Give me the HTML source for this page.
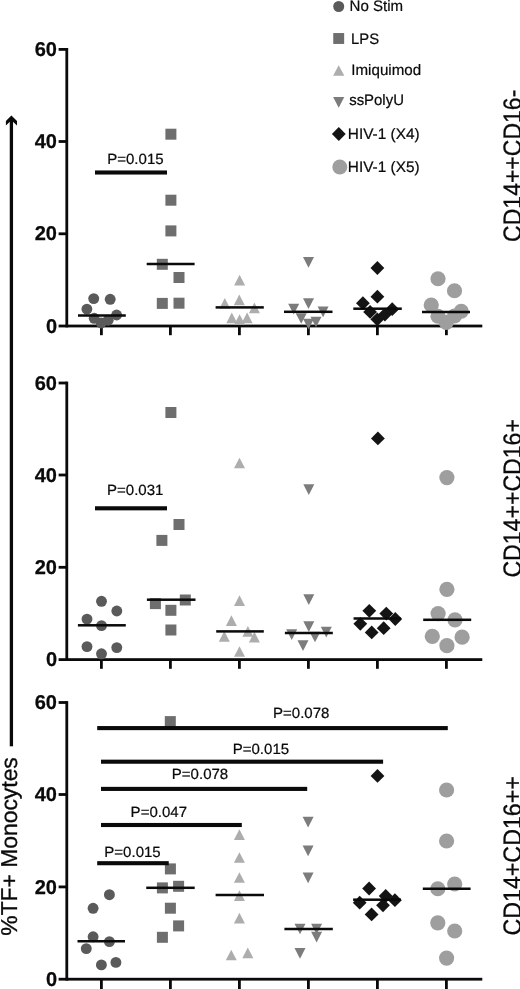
<!DOCTYPE html>
<html><head><meta charset="utf-8"><title>Figure</title>
<style>html,body{margin:0;padding:0;background:#fff}svg{display:block}</style>
</head><body>
<svg width="520" height="989" viewBox="0 0 520 989" font-family='"Liberation Sans", Arial, Helvetica, sans-serif' fill="#0a0a0a" text-rendering="geometricPrecision">
<rect width="520" height="989" fill="#ffffff"/>
<defs><filter id="soft" x="0" y="0" width="100%" height="100%" filterUnits="userSpaceOnUse" color-interpolation-filters="sRGB"><feGaussianBlur stdDeviation="0.45"/></filter></defs>
<g filter="url(#soft)">
<rect x="65.40" y="48.00" width="2.8" height="279.40" fill="#0a0a0a"/>
<rect x="58.60" y="324.60" width="423.70" height="2.8" fill="#0a0a0a"/>
<rect x="58.60" y="48.00" width="8.20" height="2.8" fill="#0a0a0a"/>
<text transform="translate(57.0,56.0) scale(1.0,1)" font-size="20" font-weight="bold" text-anchor="end" stroke="#0a0a0a" stroke-width="0.25">60</text>
<rect x="58.60" y="140.10" width="8.20" height="2.8" fill="#0a0a0a"/>
<text transform="translate(57.0,148.1) scale(1.0,1)" font-size="20" font-weight="bold" text-anchor="end" stroke="#0a0a0a" stroke-width="0.25">40</text>
<rect x="58.60" y="232.40" width="8.20" height="2.8" fill="#0a0a0a"/>
<text transform="translate(57.0,240.4) scale(1.0,1)" font-size="20" font-weight="bold" text-anchor="end" stroke="#0a0a0a" stroke-width="0.25">20</text>
<text transform="translate(57.0,332.6) scale(1.0,1)" font-size="20" font-weight="bold" text-anchor="end" stroke="#0a0a0a" stroke-width="0.25">0</text>
<rect x="100.00" y="326.00" width="2.8" height="9.20" fill="#0a0a0a"/>
<rect x="169.00" y="326.00" width="2.8" height="9.20" fill="#0a0a0a"/>
<rect x="238.00" y="326.00" width="2.8" height="9.20" fill="#0a0a0a"/>
<rect x="307.00" y="326.00" width="2.8" height="9.20" fill="#0a0a0a"/>
<rect x="376.00" y="326.00" width="2.8" height="9.20" fill="#0a0a0a"/>
<rect x="445.00" y="326.00" width="2.8" height="9.20" fill="#0a0a0a"/>
<circle cx="93.7" cy="298.6" r="5.45" fill="#5a5a5a"/>
<circle cx="110.2" cy="299.3" r="5.45" fill="#5a5a5a"/>
<circle cx="86.9" cy="309.1" r="5.45" fill="#5a5a5a"/>
<circle cx="116.6" cy="315.0" r="5.45" fill="#5a5a5a"/>
<circle cx="94.2" cy="318.3" r="5.45" fill="#5a5a5a"/>
<circle cx="101.2" cy="323.0" r="5.45" fill="#5a5a5a"/>
<circle cx="108.2" cy="320.2" r="5.45" fill="#5a5a5a"/>
<rect x="165.40" y="128.70" width="11" height="11" fill="#6e6e6e"/>
<rect x="165.40" y="194.70" width="11" height="11" fill="#6e6e6e"/>
<rect x="165.40" y="225.40" width="11" height="11" fill="#6e6e6e"/>
<rect x="156.80" y="258.80" width="11" height="11" fill="#6e6e6e"/>
<rect x="173.50" y="272.00" width="11" height="11" fill="#6e6e6e"/>
<rect x="156.80" y="297.90" width="11" height="11" fill="#6e6e6e"/>
<rect x="173.50" y="297.70" width="11" height="11" fill="#6e6e6e"/>
<polygon points="234.10,285.55 245.10,285.55 239.60,274.85" fill="#adadad"/>
<polygon points="233.80,305.15 244.80,305.15 239.30,294.45" fill="#adadad"/>
<polygon points="219.30,308.65 230.30,308.65 224.80,297.95" fill="#adadad"/>
<polygon points="248.90,313.25 259.90,313.25 254.40,302.55" fill="#adadad"/>
<polygon points="226.30,323.25 237.30,323.25 231.80,312.55" fill="#adadad"/>
<polygon points="234.10,324.85 245.10,324.85 239.60,314.15" fill="#adadad"/>
<polygon points="241.60,323.25 252.60,323.25 247.10,312.55" fill="#adadad"/>
<polygon points="303.00,256.95 314.00,256.95 308.50,267.65" fill="#7c7c7c"/>
<polygon points="303.00,298.35 314.00,298.35 308.50,309.05" fill="#7c7c7c"/>
<polygon points="288.20,303.85 299.20,303.85 293.70,314.55" fill="#7c7c7c"/>
<polygon points="317.60,306.55 328.60,306.55 323.10,317.25" fill="#7c7c7c"/>
<polygon points="295.70,313.15 306.70,313.15 301.20,323.85" fill="#7c7c7c"/>
<polygon points="310.50,316.65 321.50,316.65 316.00,327.35" fill="#7c7c7c"/>
<polygon points="303.00,318.65 314.00,318.65 308.50,329.35" fill="#7c7c7c"/>
<polygon points="370.50,268.00 377.40,261.10 384.30,268.00 377.40,274.90" fill="#141414"/>
<polygon points="370.50,296.70 377.40,289.80 384.30,296.70 377.40,303.60" fill="#141414"/>
<polygon points="356.00,303.20 362.90,296.30 369.80,303.20 362.90,310.10" fill="#141414"/>
<polygon points="385.30,309.20 392.20,302.30 399.10,309.20 392.20,316.10" fill="#141414"/>
<polygon points="363.20,311.90 370.10,305.00 377.00,311.90 370.10,318.80" fill="#141414"/>
<polygon points="378.00,314.60 384.90,307.70 391.80,314.60 384.90,321.50" fill="#141414"/>
<polygon points="370.40,319.30 377.30,312.40 384.20,319.30 377.30,326.20" fill="#141414"/>
<circle cx="438" cy="278.75" r="7.6" fill="#9e9e9e"/>
<circle cx="454.5" cy="290.75" r="7.6" fill="#9e9e9e"/>
<circle cx="431.25" cy="305" r="7.6" fill="#9e9e9e"/>
<circle cx="461.25" cy="311.25" r="7.6" fill="#9e9e9e"/>
<circle cx="438" cy="316.25" r="7.6" fill="#9e9e9e"/>
<circle cx="454.5" cy="316" r="7.6" fill="#9e9e9e"/>
<circle cx="446.3" cy="322.3" r="7.6" fill="#9e9e9e"/>
<rect x="78.00" y="314.25" width="47.80" height="2.5" fill="#0a0a0a"/>
<rect x="146.70" y="262.75" width="47.90" height="2.5" fill="#0a0a0a"/>
<rect x="215.60" y="306.15" width="48.20" height="2.5" fill="#0a0a0a"/>
<rect x="284.00" y="310.55" width="48.50" height="2.5" fill="#0a0a0a"/>
<rect x="353.30" y="307.45" width="48.50" height="2.5" fill="#0a0a0a"/>
<rect x="422.00" y="310.75" width="48.00" height="2.5" fill="#0a0a0a"/>
<rect x="95.00" y="170.45" width="72.00" height="4.1" fill="#0a0a0a"/>
<text transform="translate(135.4,163.6) scale(1.015,1)" font-size="14.8" font-weight="normal" text-anchor="middle" stroke="#0a0a0a" stroke-width="0.22">P=0.015</text>
<rect x="65.40" y="381.60" width="2.8" height="279.40" fill="#0a0a0a"/>
<rect x="58.60" y="658.20" width="423.70" height="2.8" fill="#0a0a0a"/>
<rect x="58.60" y="381.60" width="8.20" height="2.8" fill="#0a0a0a"/>
<text transform="translate(57.0,389.6) scale(1.0,1)" font-size="20" font-weight="bold" text-anchor="end" stroke="#0a0a0a" stroke-width="0.25">60</text>
<rect x="58.60" y="473.60" width="8.20" height="2.8" fill="#0a0a0a"/>
<text transform="translate(57.0,481.6) scale(1.0,1)" font-size="20" font-weight="bold" text-anchor="end" stroke="#0a0a0a" stroke-width="0.25">40</text>
<rect x="58.60" y="565.90" width="8.20" height="2.8" fill="#0a0a0a"/>
<text transform="translate(57.0,573.9) scale(1.0,1)" font-size="20" font-weight="bold" text-anchor="end" stroke="#0a0a0a" stroke-width="0.25">20</text>
<text transform="translate(57.0,666.2) scale(1.0,1)" font-size="20" font-weight="bold" text-anchor="end" stroke="#0a0a0a" stroke-width="0.25">0</text>
<rect x="100.00" y="659.60" width="2.8" height="9.20" fill="#0a0a0a"/>
<rect x="169.00" y="659.60" width="2.8" height="9.20" fill="#0a0a0a"/>
<rect x="238.00" y="659.60" width="2.8" height="9.20" fill="#0a0a0a"/>
<rect x="307.00" y="659.60" width="2.8" height="9.20" fill="#0a0a0a"/>
<rect x="376.00" y="659.60" width="2.8" height="9.20" fill="#0a0a0a"/>
<rect x="445.00" y="659.60" width="2.8" height="9.20" fill="#0a0a0a"/>
<circle cx="101.5" cy="601.3" r="5.45" fill="#5a5a5a"/>
<circle cx="116.8" cy="611" r="5.45" fill="#5a5a5a"/>
<circle cx="87" cy="619.1" r="5.45" fill="#5a5a5a"/>
<circle cx="101.5" cy="625.6" r="5.45" fill="#5a5a5a"/>
<circle cx="87" cy="646.6" r="5.45" fill="#5a5a5a"/>
<circle cx="116.8" cy="647.6" r="5.45" fill="#5a5a5a"/>
<circle cx="101.5" cy="653.8" r="5.45" fill="#5a5a5a"/>
<rect x="165.40" y="407.00" width="11" height="11" fill="#6e6e6e"/>
<rect x="173.50" y="519.00" width="11" height="11" fill="#6e6e6e"/>
<rect x="156.40" y="534.90" width="11" height="11" fill="#6e6e6e"/>
<rect x="149.90" y="598.10" width="11" height="11" fill="#6e6e6e"/>
<rect x="179.80" y="594.50" width="11" height="11" fill="#6e6e6e"/>
<rect x="165.40" y="604.80" width="11" height="11" fill="#6e6e6e"/>
<rect x="165.40" y="624.50" width="11" height="11" fill="#6e6e6e"/>
<polygon points="234.00,468.35 245.00,468.35 239.50,457.65" fill="#adadad"/>
<polygon points="234.00,605.95 245.00,605.95 239.50,595.25" fill="#adadad"/>
<polygon points="225.90,626.05 236.90,626.05 231.40,615.35" fill="#adadad"/>
<polygon points="242.40,636.75 253.40,636.75 247.90,626.05" fill="#adadad"/>
<polygon points="218.80,641.65 229.80,641.65 224.30,630.95" fill="#adadad"/>
<polygon points="248.90,642.55 259.90,642.55 254.40,631.85" fill="#adadad"/>
<polygon points="234.00,656.85 245.00,656.85 239.50,646.15" fill="#adadad"/>
<polygon points="303.30,484.25 314.30,484.25 308.80,494.95" fill="#7c7c7c"/>
<polygon points="303.30,594.35 314.30,594.35 308.80,605.05" fill="#7c7c7c"/>
<polygon points="303.30,621.25 314.30,621.25 308.80,631.95" fill="#7c7c7c"/>
<polygon points="286.20,629.35 297.20,629.35 291.70,640.05" fill="#7c7c7c"/>
<polygon points="320.80,626.75 331.80,626.75 326.30,637.45" fill="#7c7c7c"/>
<polygon points="309.50,631.65 320.50,631.65 315.00,642.35" fill="#7c7c7c"/>
<polygon points="297.50,640.35 308.50,640.35 303.00,651.05" fill="#7c7c7c"/>
<polygon points="371.00,438.40 377.90,431.50 384.80,438.40 377.90,445.30" fill="#141414"/>
<polygon points="362.40,610.80 369.30,603.90 376.20,610.80 369.30,617.70" fill="#141414"/>
<polygon points="379.40,613.60 386.30,606.70 393.20,613.60 386.30,620.50" fill="#141414"/>
<polygon points="388.40,619.00 395.30,612.10 402.20,619.00 395.30,625.90" fill="#141414"/>
<polygon points="353.40,623.80 360.30,616.90 367.20,623.80 360.30,630.70" fill="#141414"/>
<polygon points="376.80,628.20 383.70,621.30 390.60,628.20 383.70,635.10" fill="#141414"/>
<polygon points="364.80,632.40 371.70,625.50 378.60,632.40 371.70,639.30" fill="#141414"/>
<circle cx="446.9" cy="477.6" r="7.6" fill="#9e9e9e"/>
<circle cx="446.9" cy="589.3" r="7.6" fill="#9e9e9e"/>
<circle cx="438.1" cy="613.6" r="7.6" fill="#9e9e9e"/>
<circle cx="455" cy="619.8" r="7.6" fill="#9e9e9e"/>
<circle cx="432.3" cy="636.3" r="7.6" fill="#9e9e9e"/>
<circle cx="462.1" cy="637.2" r="7.6" fill="#9e9e9e"/>
<circle cx="446.9" cy="645.7" r="7.6" fill="#9e9e9e"/>
<rect x="77.90" y="624.05" width="47.90" height="2.5" fill="#0a0a0a"/>
<rect x="146.90" y="598.45" width="48.60" height="2.5" fill="#0a0a0a"/>
<rect x="216.20" y="630.15" width="47.60" height="2.5" fill="#0a0a0a"/>
<rect x="284.90" y="631.75" width="47.90" height="2.5" fill="#0a0a0a"/>
<rect x="353.60" y="617.25" width="47.30" height="2.5" fill="#0a0a0a"/>
<rect x="423.20" y="618.55" width="48.00" height="2.5" fill="#0a0a0a"/>
<rect x="95.00" y="506.25" width="72.00" height="4.1" fill="#0a0a0a"/>
<text transform="translate(135.2,495) scale(1.015,1)" font-size="14.8" font-weight="normal" text-anchor="middle" stroke="#0a0a0a" stroke-width="0.22">P=0.031</text>
<rect x="65.40" y="701.10" width="2.8" height="279.50" fill="#0a0a0a"/>
<rect x="58.60" y="977.80" width="423.70" height="2.8" fill="#0a0a0a"/>
<rect x="58.60" y="701.10" width="8.20" height="2.8" fill="#0a0a0a"/>
<text transform="translate(57.0,709.1) scale(1.0,1)" font-size="20" font-weight="bold" text-anchor="end" stroke="#0a0a0a" stroke-width="0.25">60</text>
<rect x="58.60" y="793.10" width="8.20" height="2.8" fill="#0a0a0a"/>
<text transform="translate(57.0,801.1) scale(1.0,1)" font-size="20" font-weight="bold" text-anchor="end" stroke="#0a0a0a" stroke-width="0.25">40</text>
<rect x="58.60" y="885.50" width="8.20" height="2.8" fill="#0a0a0a"/>
<text transform="translate(57.0,893.5) scale(1.0,1)" font-size="20" font-weight="bold" text-anchor="end" stroke="#0a0a0a" stroke-width="0.25">20</text>
<text transform="translate(57.0,985.8000000000001) scale(1.0,1)" font-size="20" font-weight="bold" text-anchor="end" stroke="#0a0a0a" stroke-width="0.25">0</text>
<rect x="100.00" y="979.20" width="2.8" height="10.80" fill="#0a0a0a"/>
<rect x="169.00" y="979.20" width="2.8" height="10.80" fill="#0a0a0a"/>
<rect x="238.00" y="979.20" width="2.8" height="10.80" fill="#0a0a0a"/>
<rect x="307.00" y="979.20" width="2.8" height="10.80" fill="#0a0a0a"/>
<rect x="376.00" y="979.20" width="2.8" height="10.80" fill="#0a0a0a"/>
<rect x="445.00" y="979.20" width="2.8" height="10.80" fill="#0a0a0a"/>
<circle cx="109.4" cy="894.7" r="5.45" fill="#5a5a5a"/>
<circle cx="93.1" cy="908.3" r="5.45" fill="#5a5a5a"/>
<circle cx="93.1" cy="936.8" r="5.45" fill="#5a5a5a"/>
<circle cx="109.4" cy="941.6" r="5.45" fill="#5a5a5a"/>
<circle cx="86.3" cy="948.6" r="5.45" fill="#5a5a5a"/>
<circle cx="115.9" cy="962.4" r="5.45" fill="#5a5a5a"/>
<circle cx="101.4" cy="964.9" r="5.45" fill="#5a5a5a"/>
<rect x="164.80" y="716.10" width="11" height="11" fill="#6e6e6e"/>
<rect x="164.90" y="863.40" width="11" height="11" fill="#6e6e6e"/>
<rect x="156.90" y="882.40" width="11" height="11" fill="#6e6e6e"/>
<rect x="173.10" y="880.80" width="11" height="11" fill="#6e6e6e"/>
<rect x="164.90" y="902.70" width="11" height="11" fill="#6e6e6e"/>
<rect x="173.10" y="920.40" width="11" height="11" fill="#6e6e6e"/>
<rect x="156.90" y="931.80" width="11" height="11" fill="#6e6e6e"/>
<polygon points="233.90,840.05 244.90,840.05 239.40,829.35" fill="#adadad"/>
<polygon points="233.90,862.85 244.90,862.85 239.40,852.15" fill="#adadad"/>
<polygon points="233.90,882.85 244.90,882.85 239.40,872.15" fill="#adadad"/>
<polygon points="233.90,900.95 244.90,900.95 239.40,890.25" fill="#adadad"/>
<polygon points="233.90,923.45 244.90,923.45 239.40,912.75" fill="#adadad"/>
<polygon points="225.75,960.35 236.75,960.35 231.25,949.65" fill="#adadad"/>
<polygon points="242.30,958.15 253.30,958.15 247.80,947.45" fill="#adadad"/>
<polygon points="302.60,816.85 313.60,816.85 308.10,827.55" fill="#7c7c7c"/>
<polygon points="302.60,845.55 313.60,845.55 308.10,856.25" fill="#7c7c7c"/>
<polygon points="302.60,872.45 313.60,872.45 308.10,883.15" fill="#7c7c7c"/>
<polygon points="294.50,923.65 305.50,923.65 300.00,934.35" fill="#7c7c7c"/>
<polygon points="311.10,923.65 322.10,923.65 316.60,934.35" fill="#7c7c7c"/>
<polygon points="311.10,931.85 322.10,931.85 316.60,942.55" fill="#7c7c7c"/>
<polygon points="294.50,948.05 305.50,948.05 300.00,958.75" fill="#7c7c7c"/>
<polygon points="370.60,775.90 377.50,769.00 384.40,775.90 377.50,782.80" fill="#141414"/>
<polygon points="362.20,888.50 369.10,881.60 376.00,888.50 369.10,895.40" fill="#141414"/>
<polygon points="378.80,896.00 385.70,889.10 392.60,896.00 385.70,902.90" fill="#141414"/>
<polygon points="388.00,900.20 394.90,893.30 401.80,900.20 394.90,907.10" fill="#141414"/>
<polygon points="352.80,902.70 359.70,895.80 366.60,902.70 359.70,909.60" fill="#141414"/>
<polygon points="376.10,905.30 383.00,898.40 389.90,905.30 383.00,912.20" fill="#141414"/>
<polygon points="364.70,914.40 371.60,907.50 378.50,914.40 371.60,921.30" fill="#141414"/>
<circle cx="446.6" cy="790" r="7.6" fill="#9e9e9e"/>
<circle cx="446.6" cy="841" r="7.6" fill="#9e9e9e"/>
<circle cx="454.7" cy="884" r="7.6" fill="#9e9e9e"/>
<circle cx="437.8" cy="888.75" r="7.6" fill="#9e9e9e"/>
<circle cx="437.8" cy="922.8" r="7.6" fill="#9e9e9e"/>
<circle cx="454.7" cy="931" r="7.6" fill="#9e9e9e"/>
<circle cx="446.6" cy="958.1" r="7.6" fill="#9e9e9e"/>
<rect x="77.50" y="940.00" width="47.50" height="2.5" fill="#0a0a0a"/>
<rect x="146.25" y="886.55" width="48.45" height="2.5" fill="#0a0a0a"/>
<rect x="215.60" y="893.75" width="48.40" height="2.5" fill="#0a0a0a"/>
<rect x="284.40" y="927.75" width="48.40" height="2.5" fill="#0a0a0a"/>
<rect x="353.10" y="898.45" width="47.90" height="2.5" fill="#0a0a0a"/>
<rect x="422.80" y="887.50" width="47.80" height="2.5" fill="#0a0a0a"/>
<rect x="97.20" y="861.15" width="71.55" height="4.1" fill="#0a0a0a"/>
<rect x="101.00" y="822.95" width="140.80" height="4.1" fill="#0a0a0a"/>
<rect x="101.00" y="786.85" width="206.20" height="4.1" fill="#0a0a0a"/>
<rect x="101.00" y="759.65" width="282.10" height="4.1" fill="#0a0a0a"/>
<rect x="97.20" y="726.05" width="350.60" height="4.1" fill="#0a0a0a"/>
<text transform="translate(132.5,856.6) scale(1.015,1)" font-size="14.8" font-weight="normal" text-anchor="middle" stroke="#0a0a0a" stroke-width="0.22">P=0.015</text>
<text transform="translate(158.8,816.9) scale(1.015,1)" font-size="14.8" font-weight="normal" text-anchor="middle" stroke="#0a0a0a" stroke-width="0.22">P=0.047</text>
<text transform="translate(200.0,778.75) scale(1.015,1)" font-size="14.8" font-weight="normal" text-anchor="middle" stroke="#0a0a0a" stroke-width="0.22">P=0.078</text>
<text transform="translate(260.9,753.75) scale(1.015,1)" font-size="14.8" font-weight="normal" text-anchor="middle" stroke="#0a0a0a" stroke-width="0.22">P=0.015</text>
<text transform="translate(301.2,718.1) scale(1.015,1)" font-size="14.8" font-weight="normal" text-anchor="middle" stroke="#0a0a0a" stroke-width="0.22">P=0.078</text>
<circle cx="338.7" cy="6.5" r="5.5" fill="#5a5a5a"/>
<text transform="translate(349.6,10.9) scale(0.991,1)" font-size="15.2" font-weight="normal" text-anchor="start" stroke="#0a0a0a" stroke-width="0.22">No Stim</text>
<rect x="333.25" y="33.05" width="10.9" height="10.9" fill="#6e6e6e"/>
<text transform="translate(351.0,44.2) scale(0.978,1)" font-size="15.2" font-weight="normal" text-anchor="start" stroke="#0a0a0a" stroke-width="0.22">LPS</text>
<polygon points="333.10,75.70 344.30,75.70 338.70,65.30" fill="#adadad"/>
<text transform="translate(351.3,75.4) scale(0.996,1)" font-size="15.2" font-weight="normal" text-anchor="start" stroke="#0a0a0a" stroke-width="0.22">Imiquimod</text>
<polygon points="333.10,96.90 344.30,96.90 338.70,107.70" fill="#7c7c7c"/>
<text transform="translate(349.2,105.1) scale(0.982,1)" font-size="15.2" font-weight="normal" text-anchor="start" stroke="#0a0a0a" stroke-width="0.22">ssPolyU</text>
<polygon points="331.90,134.00 338.80,127.10 345.70,134.00 338.80,140.90" fill="#141414"/>
<text transform="translate(347.8,138.9) scale(1.012,1)" font-size="15.2" font-weight="normal" text-anchor="start" stroke="#0a0a0a" stroke-width="0.22">HIV-1 (X4)</text>
<circle cx="339.8" cy="167" r="7.5" fill="#9e9e9e"/>
<text transform="translate(347.8,171.8) scale(1.012,1)" font-size="15.2" font-weight="normal" text-anchor="start" stroke="#0a0a0a" stroke-width="0.22">HIV-1 (X5)</text>
<text transform="translate(521.3,241.9) rotate(-90)" font-size="25.3" textLength="152.2" lengthAdjust="spacingAndGlyphs" stroke="#0a0a0a" stroke-width="0.3">CD14++CD16-</text>
<text transform="translate(521.3,577.6) rotate(-90)" font-size="25.3" textLength="158.5" lengthAdjust="spacingAndGlyphs" stroke="#0a0a0a" stroke-width="0.3">CD14++CD16+</text>
<text transform="translate(521.3,935.6) rotate(-90)" font-size="25.3" textLength="159.5" lengthAdjust="spacingAndGlyphs" stroke="#0a0a0a" stroke-width="0.3">CD14+CD16++</text>
<text transform="translate(17.3,935.7) rotate(-90)" font-size="23" textLength="178.5" lengthAdjust="spacingAndGlyphs" stroke="#0a0a0a" stroke-width="0.3">%TF+ Monocytes</text>
<rect x="9.75" y="119.00" width="3.3" height="627.30" fill="#0a0a0a"/>
<polygon points="11.4,115.6 17,121 17,125.4 11.4,120.2 5.9,125.4 5.9,121" />
</g>
</svg>
</body></html>
